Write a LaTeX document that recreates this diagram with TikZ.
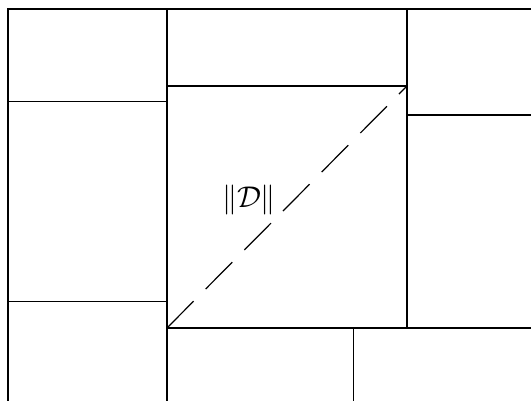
\documentclass[tikz,border=0pt]{standalone}
\usepackage{amsmath}

\begin{document}
\begin{tikzpicture}[x=0.3333pt, y=-0.3333pt, line width=0.4pt,
    diag/.style={dash pattern=on 12.6pt off 5.7pt}]
  \useasboundingbox (0,0) rectangle (531,401);
  \clip (0,0) rectangle (531,401);
  % middle square
  \coordinate (SW) at (167,328);
  \coordinate (NW) at (167,86);
  \coordinate (NE) at (407,86);
  \coordinate (SE) at (407,328);
  % outer frame (runs off to the right and bottom)
  \draw (8,401) -- (8,9) -- (531,9);
  \draw (167,9) -- (167,401);
  % left column
  \draw (8,101.5) -- (167,101.5);
  \draw (8,301.5) -- (167,301.5);
  % top and right
  \draw (NW) -- (NE);
  \draw (407,9) -- (SE);
  \draw (NE |- 0,115) -- (531,115);
  % bottom row
  \draw (SW) -- (531,328);
  \draw (353.5,328) -- (353.5,401);
  % the diagonal
  \draw[diag] (SW) -- (NE);
  \node (lbl) at (249,200) {$\|\mathcal{D}\|$};
\end{tikzpicture}
\end{document}
